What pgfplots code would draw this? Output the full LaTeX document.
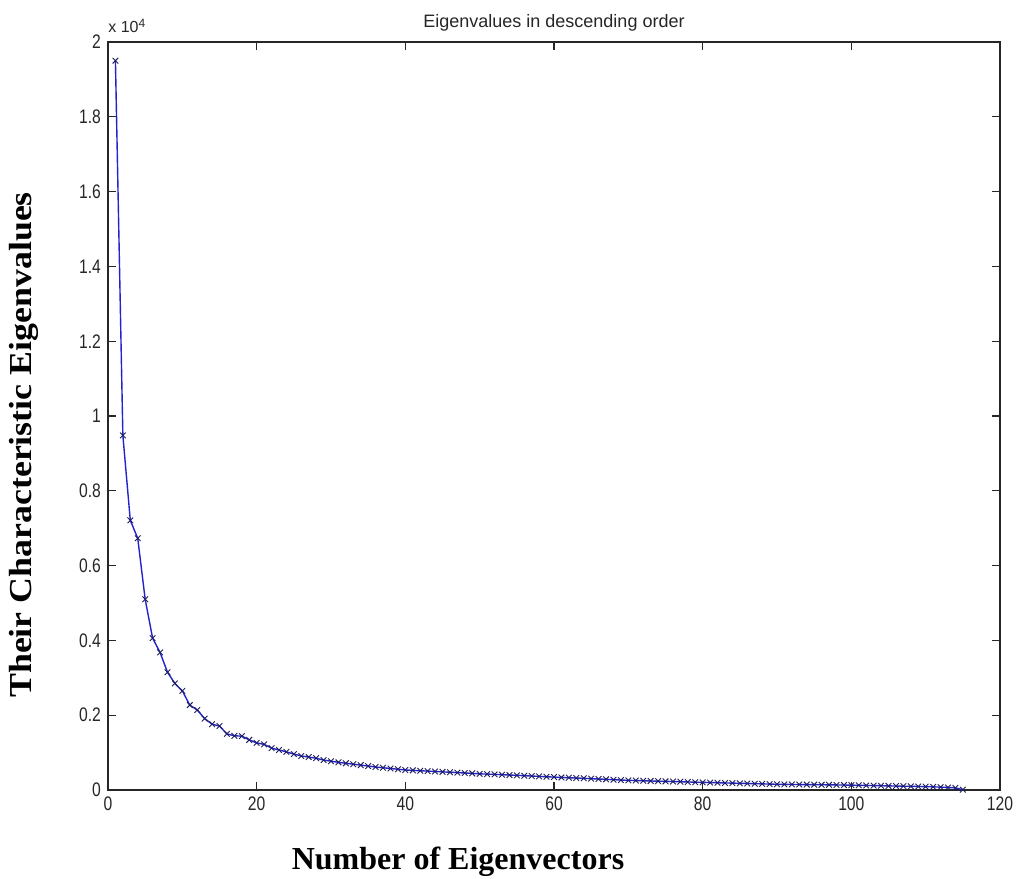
\documentclass[border=0pt]{standalone}
\usepackage{fontspec}
\usepackage{graphicx}
\usepackage{pgfplots}
\pgfplotsset{compat=1.18}
\setmainfont{Liberation Sans}
\newfontfamily\tickfont[FakeStretch=0.8]{Liberation Sans}
\newfontfamily\labelfont{Liberation Serif}
\definecolor{lineblue}{RGB}{35,35,205}
\definecolor{markdark}{RGB}{30,30,90}

\pgfplotstableread{
x y
1 19500
2 9480
3 7210
4 6730
5 5100
6 4060
7 3680
8 3150
9 2850
10 2650
11 2270
12 2140
13 1910
14 1760
15 1710
16 1500
17 1450
18 1440
19 1340
20 1260
21 1220
22 1120
23 1070
24 1020
25 960
26 910
27 880
28 850
29 800
30 770
31 740
32 715
33 690
34 665
35 640
36 615
37 595
38 575
39 555
40 535
41 525
42 515
43 505
44 495
45 485
46 475
47 465
48 455
49 445
50 432
51 425
52 418
53 410
54 400
55 392
56 383
57 373
58 364
59 354
60 345
61 336
62 328
63 320
64 312
65 303
66 294
67 285
68 276
69 266
70 258
71 252
72 247
73 241
74 236
75 231
76 226
77 221
78 215
79 209
80 204
81 199
82 194
83 189
84 184
85 179
86 174
87 169
88 164
89 158
90 153
91 150
92 148
93 146
94 144
95 142
96 140
97 138
98 135
99 133
100 130
101 126
102 122
103 118
104 114
105 110
106 106
107 102
108 98
109 94
110 90
111 84
112 77
113 68
114 58
115 8
}\eigdata

\begin{document}
\begin{tikzpicture}
\begin{axis}[
  scale only axis, width=446pt, height=374pt,
  xmin=0, xmax=120, ymin=0, ymax=20000,
  xtick={0,20,...,120},
  ytick={0,2000,4000,6000,8000,10000,12000,14000,16000,18000,20000},
  yticklabels={0,0.2,0.4,0.6,0.8,1,1.2,1.4,1.6,1.8,2},
  scaled y ticks=false,
  tick align=inside,
  major tick length=4pt,
  axis line style={line width=0.6pt, color=black!85},
  every tick/.style={black!85, line width=0.6pt},
  tick label style={font=\tickfont\fontsize{9.8}{10}\selectfont, text=black!85},
  /pgf/number format/assume math mode=true,
]
\addplot[color=lineblue, line width=0.7pt, mark=x, mark size=2pt,
  mark options={color=markdark, line width=0.45pt}] table[x=x, y=y] {\eigdata};
\coordinate (bl) at (rel axis cs:0,0);
\coordinate (tr) at (rel axis cs:1,1);
\coordinate (tl) at (rel axis cs:0,1);
\end{axis}
\node[anchor=base, inner sep=0pt, font=\fontsize{9}{10}\selectfont, text=black!85] at ([shift={(223pt,7pt)}]tl) {Eigenvalues in descending order};
\node[anchor=base west, inner sep=0pt, font=\fontsize{8}{9}\selectfont, text=black!85] at ([shift={(0pt,4.5pt)}]tl) {x 10\textsuperscript{4}};
\node[rotate=90, anchor=center, inner sep=0pt] at ([shift={(-42pt,172.5pt)}]bl) {\scalebox{1.12}[1]{\labelfont\bfseries\fontsize{16}{18}\selectfont Their Characteristic Eigenvalues}};
\node[anchor=base, inner sep=0pt] at ([shift={(175pt,-39.5pt)}]bl) {\labelfont\bfseries\fontsize{16}{18}\selectfont Number of Eigenvectors};
\pgfresetboundingbox
\useasboundingbox ([shift={(-54pt,-44pt)}]bl) rectangle ([shift={(8.5pt,21pt)}]tr);
\end{tikzpicture}
\end{document}
